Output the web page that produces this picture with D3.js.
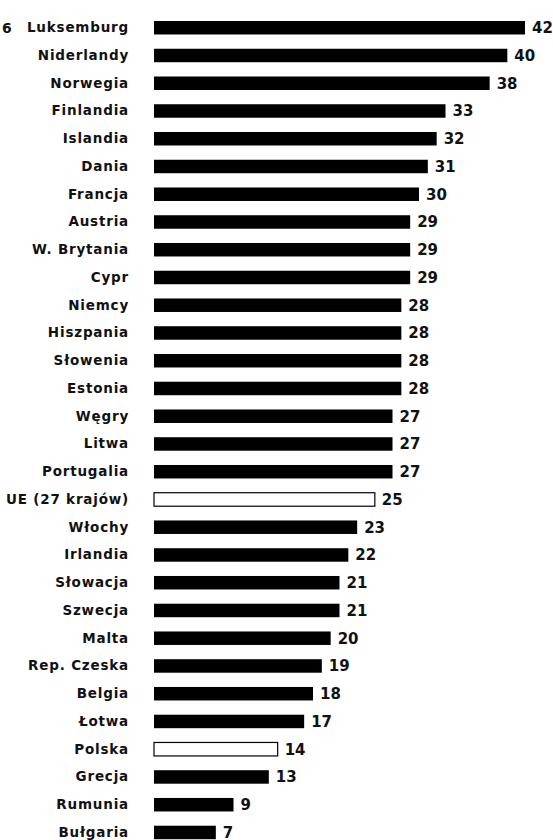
<!DOCTYPE html>
<html>
<head>
<meta charset="utf-8">
<script src="https://cdn.jsdelivr.net/npm/d3@7"></script>
<style>
  body { margin: 0; background: #fff; }
  svg { display: block; }
  text { font-family: "DejaVu Sans", "Liberation Sans", sans-serif; fill: #111; font-weight: bold; }
</style>
</head>
<body>
<svg width="553" height="840"></svg>
<script>
const countries = ["Luksemburg", "Niderlandy", "Norwegia", "Finlandia", "Islandia", "Dania",
  "Francja", "Austria", "W. Brytania", "Cypr", "Niemcy", "Hiszpania", "Słowenia", "Estonia",
  "Węgry", "Litwa", "Portugalia", "UE (27 krajów)", "Włochy", "Irlandia", "Słowacja",
  "Szwecja", "Malta", "Rep. Czeska", "Belgia", "Łotwa", "Polska", "Grecja", "Rumunia", "Bułgaria"];
const values = [42, 40, 38, 33, 32, 31, 30, 29, 29, 29, 28, 28, 28, 28, 27, 27, 27, 25,
  23, 22, 21, 21, 20, 19, 18, 17, 14, 13, 9, 7];
const highlighted = ["UE (27 krajów)", "Polska"];

const svg = d3.select("svg");
const data = countries.map((c, i) => ({ name: c, value: values[i] }));

const x = d3.scaleLinear().domain([0, 42]).range([154, 525]);
// step about 27.75px, bar about 13.5px tall
const y = d3.scaleBand().domain(countries).range([21, 839.2]).paddingInner(0.514).paddingOuter(0);

const mid = d => y(d.name) + y.bandwidth() / 2;

// cut-off page fragment at the top left
svg.append("text").attr("x", 2).attr("y", y("Luksemburg") + y.bandwidth() / 2)
  .attr("dy", "0.36em").attr("font-size", 14).text("6");

const row = svg.selectAll("g.row").data(data).enter().append("g").attr("class", "row");

row.append("rect")
  .attr("x", x(0))
  .attr("y", d => y(d.name))
  .attr("width", d => x(d.value) - x(0))
  .attr("height", y.bandwidth())
  .attr("fill", d => highlighted.includes(d.name) ? "#fff" : "#000")
  .attr("stroke", "#000")
  .attr("stroke-width", d => highlighted.includes(d.name) ? 1.2 : 0);

row.append("text")
  .attr("x", 129)
  .attr("y", mid)
  .attr("dy", "0.33em")
  .attr("text-anchor", "end")
  .attr("font-size", 13.5)
  .attr("letter-spacing", 0.8)
  .text(d => d.name);

row.append("text")
  .attr("x", d => x(d.value) + 7)
  .attr("y", mid)
  .attr("dy", "0.36em")
  .attr("font-size", 15)
  .text(d => d.value);
</script>
</body>
</html>
